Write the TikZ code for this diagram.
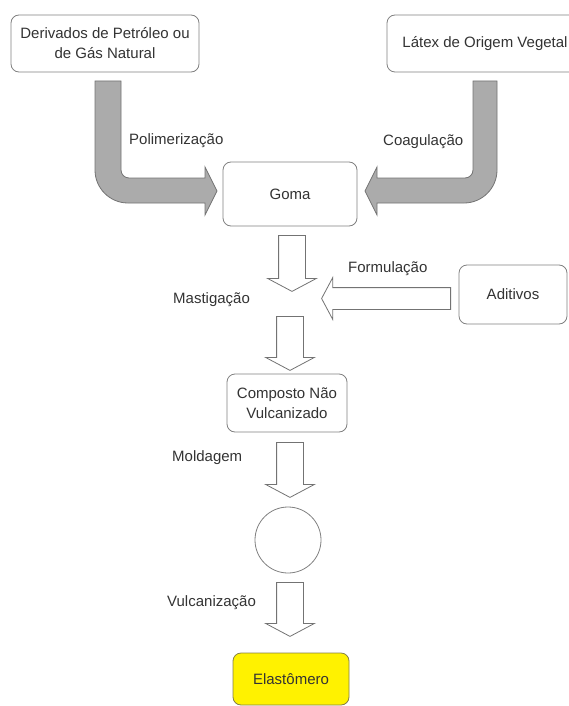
\documentclass[tikz,border=0pt]{standalone}
\usepackage{fontspec}
\setmainfont{Liberation Sans}
\usetikzlibrary{arrows.meta, positioning, shapes.geometric, shapes.arrows}

\begin{document}
\begin{tikzpicture}[
			x=1pt, y=-1pt,
			every node/.style={font=\fontsize{15}{20}\selectfont, text=black!80},
			box/.style={rectangle, draw=black!50, rounded corners=8pt, align=center, line width=0.8pt, fill=white},
			label/.style={anchor=west, inner sep=0pt},
			blockarrow/.style={single arrow, draw=black!55, fill=white, line width=0.8pt, inner sep=13pt,
				single arrow head extend=11pt, single arrow tip angle=124},
			pipe/.style={draw=black!55, fill=black!33, line width=0.8pt}
			]

			\clip (0,0) rectangle (569,706);

			% boxes
			\node[box, minimum width=188pt, minimum height=57pt] (deriv) at (105,43.5) {Derivados de Petróleo ou\\de Gás Natural};
			\node[box, minimum width=196pt, minimum height=57pt] (latex) at (485,43.5) {Látex de Origem Vegetal};
			\node[box, minimum width=134pt, minimum height=64pt] (goma) at (290,194) {Goma};
			\node[box, minimum width=108pt, minimum height=59pt] (aditivos) at (513,294.5) {Aditivos};
			\node[box, minimum width=120pt, minimum height=58pt] (composto) at (287,403) {Composto Não\\Vulcanizado};
			\node[circle, draw=black!50, line width=0.8pt, minimum size=66pt, inner sep=0pt] (molde) at (288,540) {};
			\node[box, draw=yellow!45!black, fill=yellow, minimum width=116pt, minimum height=52pt] (elast) at (291,679) {Elastômero};

			% gray bent arrows
			\filldraw[pipe] (95,81) -- (121,81) -- (121,170) .. controls (121,174.4) and (124.6,178) .. (129,178)
				-- (205,178) -- (205,167) -- (217,191) -- (205,215) -- (205,203) -- (128,203)
				.. controls (109.8,203) and (95,188.2) .. (95,170) -- cycle;
			\filldraw[pipe] (497,81) -- (473,81) -- (473,170) .. controls (473,174.4) and (469.4,178) .. (465,178)
				-- (377,178) -- (377,167) -- (365,191) -- (377,215) -- (377,203) -- (464,203)
				.. controls (482.2,203) and (497,188.2) .. (497,170) -- cycle;

			% white block arrows
			\node[blockarrow, shape border rotate=270, minimum height=56pt, anchor=tail] (a1) at (292,235) {};
			\node[blockarrow, shape border rotate=270, minimum height=54pt, anchor=tail] (a2) at (290,316) {};
			\node[blockarrow, shape border rotate=270, minimum height=55pt, anchor=tail] (a3) at (290,442) {};
			\node[blockarrow, shape border rotate=270, minimum height=54pt, anchor=tail] (a4) at (290,582) {};
			\node[blockarrow, shape border rotate=180, minimum height=129pt, inner sep=10.5pt, single arrow head extend=10pt, anchor=tail] (a5) at (451,298.5) {};

			% labels
			\node[label] (polim) at (129,141) {Polimerização};
			\node[label] (coag) at (383,142) {Coagulação};
			\node[label] (form) at (348,269) {Formulação};
			\node[label] (mast) at (173,300) {Mastigação};
			\node[label] (mold) at (172,458) {Moldagem};
			\node[label] (vulc) at (167,603) {Vulcanização};

		\end{tikzpicture}
\end{document}
